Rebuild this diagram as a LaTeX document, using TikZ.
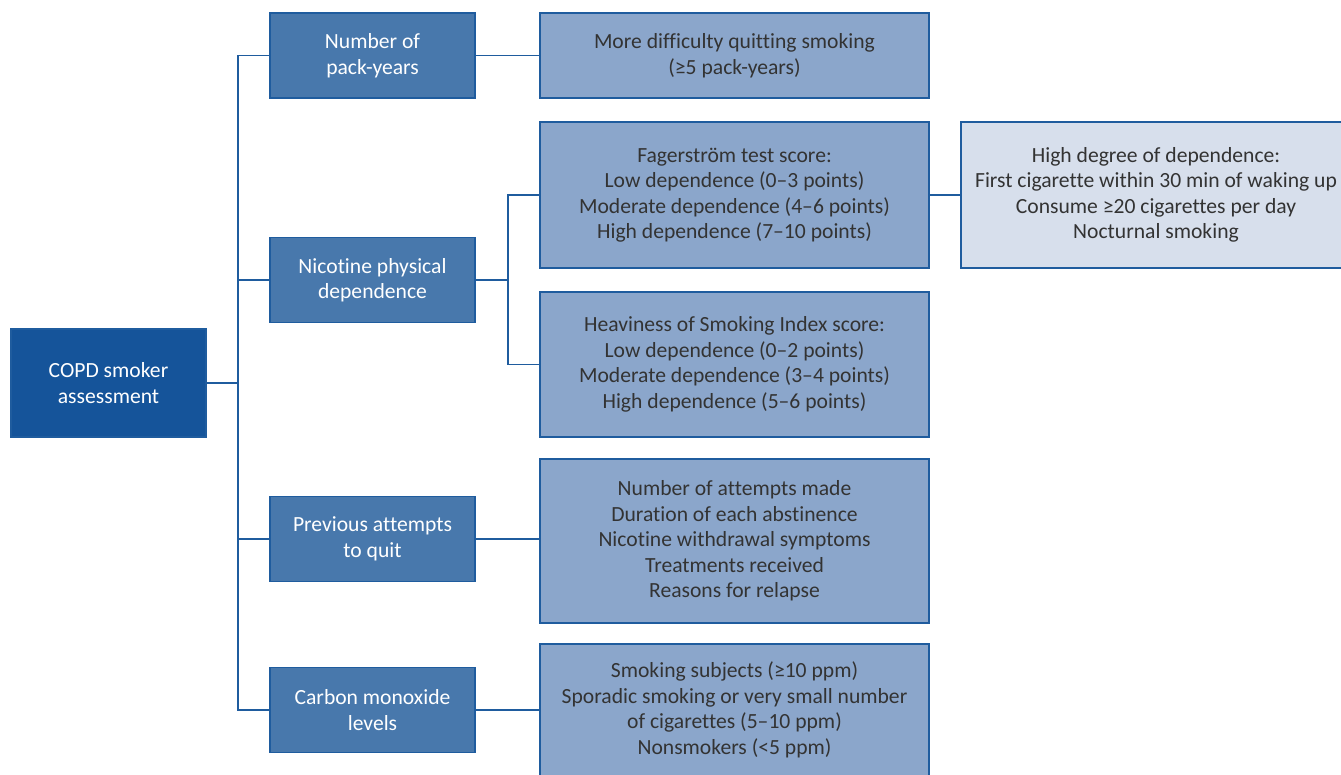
\documentclass[tikz,border=0pt]{standalone}
\usepackage{fontspec}
\setmainfont{Carlito}[Ligatures={NoCommon}]
\usepackage{tikz}
\definecolor{rootblue}{HTML}{15549A}
\definecolor{catblue}{HTML}{4878AC}
\definecolor{detailblue}{HTML}{8BA6CB}
\definecolor{noteblue}{HTML}{D7DFEC}
\definecolor{edgeblue}{HTML}{1F5C9E}
\definecolor{textgray}{HTML}{333333}

\begin{document}
\begin{tikzpicture}[x=0.02cm, y=-0.02cm,
  box/.style={rectangle, draw=edgeblue, line width=0.7pt, align=center, inner sep=0pt,
    font=\fontsize{12.3}{14.5}\selectfont},
  rootbox/.style={box, fill=rootblue, text=white, minimum width=3.9cm, minimum height=2.16cm},
  catbox/.style={box, fill=catblue, text=white, minimum width=4.1cm, minimum height=1.7cm},
  detailbox/.style={box, fill=detailblue, text=textgray, minimum width=7.78cm},
  notebox/.style={box, fill=noteblue, text=textgray, minimum width=7.8cm},
  link/.style={draw=edgeblue, line width=0.8pt},]
\useasboundingbox (0,0) rectangle (1341,774);
% nodes
\node[rootbox] (copd) at (108.5, 383) {COPD smoker\\assessment};
\node[catbox] (packyears) at (372.5, 55.5) {Number of\\pack-years};
\node[catbox] (nicotine) at (372.5, 280) {Nicotine physical\\dependence};
\node[catbox] (attempts) at (372.5, 539) {Previous attempts\\to quit};
\node[catbox] (carbon) at (372.5, 710) {Carbon monoxide\\levels};
\node[detailbox, minimum height=1.7cm] (difficulty) at (734.5, 55.5) {More difficulty quitting smoking\\(≥5 pack-years)};
\node[detailbox, minimum height=2.92cm] (fagerstrom) at (734.5, 195) {Fagerström test score:\\Low dependence (0–3 points)\\Moderate dependence (4–6 points)\\High dependence (7–10 points)};
\node[detailbox, minimum height=2.9cm] (heaviness) at (734.5, 364.5) {Heaviness of Smoking Index score:\\Low dependence (0–2 points)\\Moderate dependence (3–4 points)\\High dependence (5–6 points)};
\node[detailbox, minimum height=3.28cm] (history) at (734.5, 541) {Number of attempts made\\Duration of each abstinence\\Nicotine withdrawal symptoms\\Treatments received\\Reasons for relapse};
\node[detailbox, minimum height=2.64cm] (ppm) at (734.5, 710) {Smoking subjects (≥10 ppm)\\Sporadic smoking or very small number\\of cigarettes (5–10 ppm)\\Nonsmokers (<5 ppm)};
\node[notebox, minimum height=2.92cm] (highdep) at (1156, 195) {High degree of dependence:\\First cigarette within 30 min of waking up\\Consume ≥20 cigarettes per day\\Nocturnal smoking};
\coordinate (trunk) at (238, 383);
\coordinate (fork) at (508, 280);
% edges
\draw[link] (copd) -- (trunk);
\draw[link] (trunk) |- (packyears.west);
\draw[link] (trunk) |- (nicotine.west);
\draw[link] (trunk) |- (attempts.west);
\draw[link] (trunk) |- (carbon.west);
\draw[link] (packyears.east) -- (packyears.east -| difficulty.west);
\draw[link] (nicotine) -- (fork);
\draw[link] (fork) |- (fagerstrom.west);
\draw[link] (fork) |- (heaviness.west);
\draw[link] (attempts.east) -- (attempts.east -| history.west);
\draw[link] (carbon) -- (ppm);
\draw[link] (fagerstrom) -- (highdep);
\end{tikzpicture}
\end{document}
